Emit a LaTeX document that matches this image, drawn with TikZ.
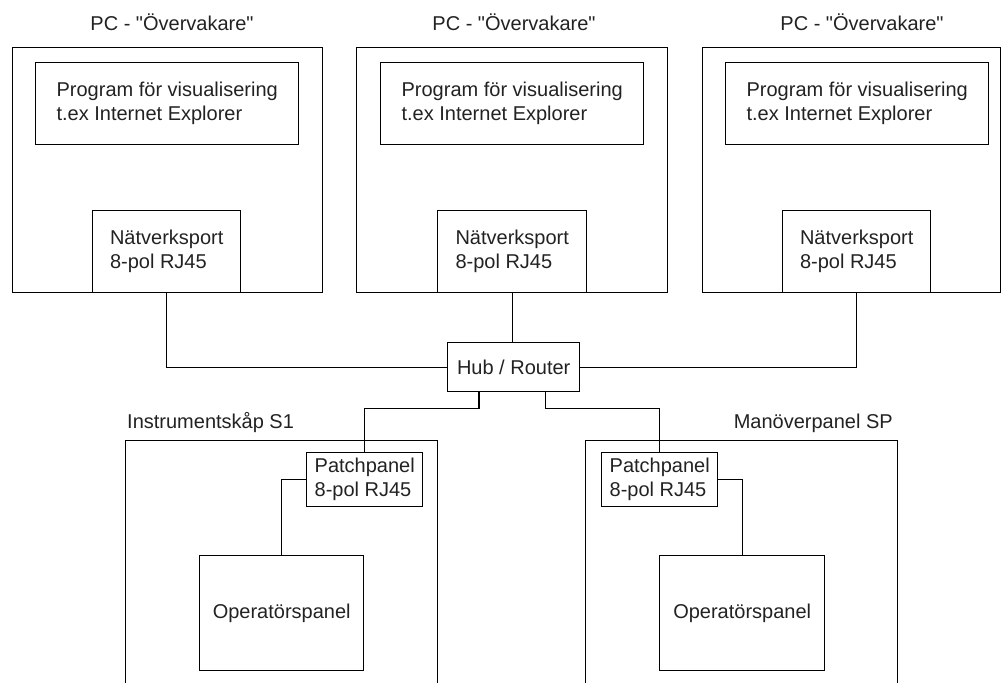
\documentclass[tikz,border=0pt]{standalone}
\usepackage{fontspec}
\defaultfontfeatures{}
\setmainfont{Liberation Sans}[Ligatures=TeXOff]
\definecolor{txt}{HTML}{222222}
\begin{document}
\begin{tikzpicture}[x=1pt,y=-1pt,
  box/.style={draw, line width=1.4pt, inner sep=0pt, anchor=north west, align=left, font=\fontsize{20}{24}\selectfont, text=txt},
  lbl/.style={inner sep=0pt, font=\fontsize{20}{24}\selectfont, text=txt},
  wire/.style={line width=1.4pt}]
\useasboundingbox (0,0) rectangle (1002,683);
% PC boxes
\node[box, minimum width=310pt, minimum height=245pt] (pc1) at (12,47) {};
\node[box, minimum width=311pt, minimum height=245pt] (pc2) at (356,47) {};
\node[box, minimum width=298pt, minimum height=245pt] (pc3) at (702,47) {};
\node[lbl] (t1) at (172,22) {PC - "Övervakare"};
\node[lbl] (t2) at (514,22) {PC - "Övervakare"};
\node[lbl] (t3) at (862,22) {PC - "Övervakare"};
% program boxes
\node[box, minimum width=263pt, minimum height=82pt] (p1) at (35,62) {Program för visualisering\\t.ex Internet Explorer};
\node[box, minimum width=263pt, minimum height=82pt] (p2) at (380,62) {Program för visualisering\\t.ex Internet Explorer};
\node[box, minimum width=263pt, minimum height=82pt] (p3) at (725,62) {Program för visualisering\\t.ex Internet Explorer};
% network ports
\node[box, minimum width=148pt, minimum height=82pt] (n1) at (92,210) {Nätverksport\\8-pol RJ45};
\node[box, minimum width=149pt, minimum height=82pt] (n2) at (437,210) {Nätverksport\\8-pol RJ45};
\node[box, minimum width=148pt, minimum height=82pt] (n3) at (782,210) {Nätverksport\\8-pol RJ45};
% hub
\node[box, align=center, minimum width=132pt, minimum height=49pt] (hub) at (447,342) {Hub / Router};
% bottom cabinets
\draw[wire] (125.7,684) -- (125.7,440.7) coordinate (c1) -- (437.7,440.7) -- (437.7,684);
\draw[wire] (585.7,684) -- (585.7,440.7) coordinate (c2) -- (897.7,440.7) -- (897.7,684);
\node[lbl, anchor=west] (t4) at (127,423) {Instrumentskåp S1};
\node[lbl, anchor=east] (t5) at (893,423) {Manöverpanel SP};
\node[box, minimum width=116pt, minimum height=54pt] (pp1) at (306,452) {Patchpanel\\8-pol RJ45};
\node[box, minimum width=116pt, minimum height=54pt] (pp2) at (601,452) {Patchpanel\\8-pol RJ45};
\node[box, align=center, minimum width=164pt, minimum height=115pt] (op1) at (199,555) {Operatörspanel};
\node[box, align=center, minimum width=165pt, minimum height=115pt] (op2) at (659,555) {Operatörspanel};
% wires
\draw[wire] (n1.south) |- (hub.west);
\draw[wire] (n3.south) |- (hub.east);
\draw[wire] (n2.south) -- (n2.south |- hub.north);
\coordinate (hl) at ([xshift=32pt]hub.south west);
\coordinate (hr) at ([xshift=-35pt]hub.south east);
\draw[wire] (hl) -- ([yshift=-16pt]hl) -| (pp1.north);
\draw[wire] (hr) -- ([yshift=-16pt]hr) -| (pp2.north);
\draw[wire] (pp1.west) -| (op1.north);
\draw[wire] (pp2.east) -| (op2.north);
\end{tikzpicture}
\end{document}
